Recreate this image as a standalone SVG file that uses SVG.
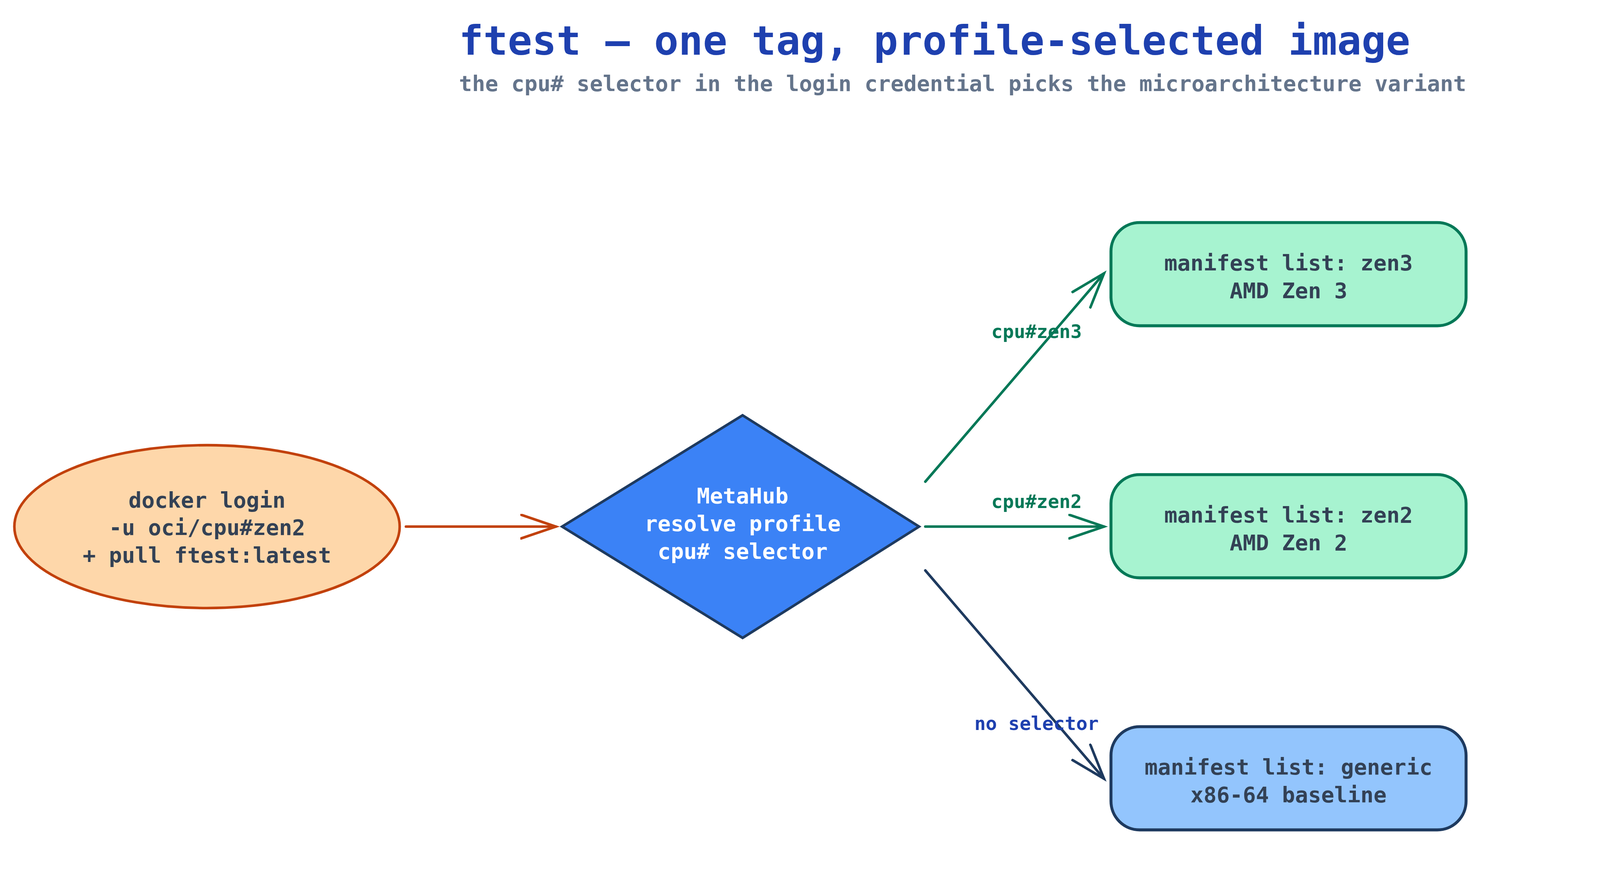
<svg xmlns="http://www.w3.org/2000/svg" width="4320" height="2280" viewBox="0 0 4320 2280">
<style>
text{font-family:"DejaVu Sans Mono","Liberation Mono",monospace;font-weight:bold;text-anchor:middle}
.t{font-size:59px;fill:#334155}
.w{font-size:59px;fill:#ffffff}
.l{font-size:51px}
.c{fill:none;stroke-width:7;stroke-linecap:round}
</style>
<defs>
<marker id="mo" markerUnits="userSpaceOnUse" markerWidth="110" markerHeight="80" refX="97" refY="35" orient="auto"><path d="M3,3 L97,35 L3,67" fill="none" stroke="#c2410c" stroke-width="7" stroke-linecap="round"/></marker>
<marker id="mg" markerUnits="userSpaceOnUse" markerWidth="110" markerHeight="80" refX="97" refY="35" orient="auto"><path d="M3,3 L97,35 L3,67" fill="none" stroke="#047857" stroke-width="7" stroke-linecap="round"/></marker>
<marker id="mn" markerUnits="userSpaceOnUse" markerWidth="110" markerHeight="80" refX="97" refY="35" orient="auto"><path d="M3,3 L97,35 L3,67" fill="none" stroke="#1e3a5f" stroke-width="7" stroke-linecap="round"/></marker>
</defs>
<rect width="4320" height="2280" fill="#ffffff"/>
<g transform="scale(0.943)">
<text x="1246" y="148" style="font-size:110px;fill:#1e40af;text-anchor:start">ftest — one tag, profile-selected image</text>
<text x="1246" y="247" style="font-size:59px;fill:#64748b;text-anchor:start">the cpu# selector in the login credential picks the microarchitecture variant</text>
<g id="connectors">
<line class="c" x1="1102" y1="1429" x2="1509" y2="1429" stroke="#c2410c" marker-end="url(#mo)"/>
<line class="c" x1="2512" y1="1307" x2="2997" y2="742" stroke="#047857" marker-end="url(#mg)"/>
<line class="c" x1="2512" y1="1429" x2="2997" y2="1429" stroke="#047857" marker-end="url(#mg)"/>
<line class="c" x1="2512" y1="1548" x2="2997" y2="2113" stroke="#1e3a5f" marker-end="url(#mn)"/>
<text class="l" x="2814" y="917" fill="#047857">cpu#zen3</text>
<text class="l" x="2814" y="1379" fill="#047857">cpu#zen2</text>
<text class="l" x="2814" y="1981" fill="#1e40af">no selector</text>
</g>
<g id="login">
<ellipse cx="562" cy="1429" rx="523" ry="221" fill="#fed7aa" stroke="#c2410c" stroke-width="7"/>
<text class="t" x="562" y="1377">docker login</text>
<text class="t" x="562" y="1452">-u oci/cpu#zen2</text>
<text class="t" x="562" y="1527">+ pull ftest:latest</text>
</g>
<g id="metahub">
<polygon points="2016,1127 2495,1429 2016,1731 1526,1429" fill="#3b82f6" stroke="#1e3a5f" stroke-width="7"/>
<text class="w" x="2016" y="1366">MetaHub</text>
<text class="w" x="2016" y="1441">resolve profile</text>
<text class="w" x="2016" y="1516">cpu# selector</text>
</g>
<g id="zen3">
<rect x="3016" y="604" width="964" height="280" rx="78" fill="#a7f3d0" stroke="#047857" stroke-width="8"/>
<text class="t" x="3498" y="734">manifest list: zen3</text>
<text class="t" x="3498" y="809">AMD Zen 3</text>
</g>
<g id="zen2">
<rect x="3016" y="1288" width="964" height="280" rx="78" fill="#a7f3d0" stroke="#047857" stroke-width="8"/>
<text class="t" x="3498" y="1418">manifest list: zen2</text>
<text class="t" x="3498" y="1493">AMD Zen 2</text>
</g>
<g id="generic">
<rect x="3016" y="1972" width="964" height="280" rx="78" fill="#93c5fd" stroke="#1e3a5f" stroke-width="8"/>
<text class="t" x="3498" y="2102">manifest list: generic</text>
<text class="t" x="3498" y="2177">x86-64 baseline</text>
</g>
</g>
</svg>
